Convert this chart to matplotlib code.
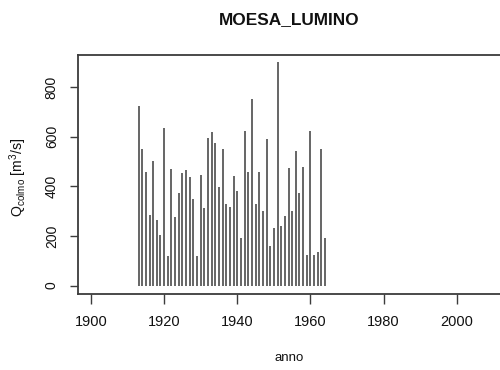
import matplotlib
matplotlib.use("Agg")
import matplotlib.pyplot as plt

plt.rcParams['font.family'] = ['Liberation Sans', 'DejaVu Sans']
plt.rcParams['mathtext.fontset'] = 'custom'
plt.rcParams['mathtext.rm'] = 'Liberation Sans'
plt.rcParams['mathtext.it'] = 'Liberation Sans:italic'

title = "MOESA_LUMINO"
years = list(range(1913, 1965))
q_colmo = [
    723, 552, 458, 286, 501, 264, 203, 636, 119, 470,
    276, 374, 453, 464, 437, 347, 119, 447, 313, 596,
    620, 574, 398, 552, 329, 318, 443, 380, 192, 625,
    458, 753, 329, 458, 302, 592, 158, 230, 900, 242,
    280, 475, 302, 542, 374, 479, 125, 625, 125, 137,
    552, 192,
]
xticks = [1900, 1920, 1940, 1960, 1980, 2000]
yticks = [0, 200, 400, 600, 800]

W, H = 500, 370
fig = plt.figure(figsize=(W / 100, H / 100), dpi=100)
left, right, top, bottom = 78.3, 500.5, 54.7, 293.7
ax = fig.add_axes([left / W, 1 - bottom / H, (right - left) / W, (bottom - top) / H])

col = '#3c3c3c'
ax.vlines(years, 0, q_colmo, colors=col, linewidth=1.1)

ax.set_xlim(1896.53, 2011.95)
ax.set_ylim(-33, 931)
ax.set_xticks(xticks)
ax.set_yticks(yticks)
ax.set_xticklabels([str(v) for v in xticks], fontsize=10.5)
ax.set_yticklabels([str(v) for v in yticks], fontsize=10, rotation=90, va='center')

for s in ['left', 'bottom', 'top', 'right']:
    ax.spines[s].set_color(col)
    ax.spines[s].set_linewidth(1.3)
ax.spines['right'].set_visible(False)

ax.tick_params(axis='x', length=7.5, width=1.0, color=col, pad=8, labelcolor='#111111')
ax.tick_params(axis='y', length=6, width=1.0, color=col, pad=8, labelcolor='#111111')

fig.text(289 / W, 1 - 20 / H, title, ha='center', va='center', fontsize=12.4, fontweight='bold', color='#111111')
fig.text(289 / W, 1 - 358 / H, 'anno', ha='center', va='center', fontsize=9.5, color='#111111')
fig.text(18 / W, 1 - 177 / H, r'Q$_{\mathrm{colmo}}$ [m$^{\mathrm{3}}$/s]', ha='center', va='center',
         rotation=90, fontsize=10.2, color='#111111')

fig.savefig('out.png', dpi=100)
